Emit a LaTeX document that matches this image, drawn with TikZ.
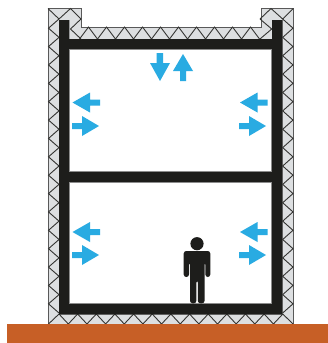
\documentclass[tikz,border=0pt]{standalone}
\definecolor{blk}{HTML}{1D1D1B}
\definecolor{skyb}{HTML}{29ABE2}
\definecolor{soil}{HTML}{C75F26}
\definecolor{insul}{HTML}{DDDFE1}
\tikzset{
  zig/.style={draw=blk!90,line width=0.9pt,line join=miter},
  arr/.style={fill=skyb,draw=none},
  wallfill/.style={fill=insul,draw=black!65,line width=1pt},
  room/.style={fill=white,draw=black!45,line width=1.2pt},
}
% left-pointing, right-pointing arrows at anchor
\newcommand{\arL}[2]{\fill[arr,shift={(#1,#2)}] (0,0)--(17.5,-10)--(17.5,-3)--(27.5,-3)--(27.5,3)--(17.5,3)--(17.5,10)--cycle;}
\newcommand{\arR}[2]{\fill[arr,shift={(#1,#2)}] (0,0)--(-17,-10)--(-17,-3)--(-27,-3)--(-27,3)--(-17,3)--(-17,10)--cycle;}
\begin{document}
\begin{tikzpicture}[x=1pt,y=-1pt]
\useasboundingbox (0,0) rectangle (328,343);
% insulation
\draw[wallfill] (48,8.5)--(81,8.5)--(81,27)--(261,27)--(261,8.5)--(293.3,8.5)--(293.3,324)--(48,324)--cycle;
% left wall zigzag
\draw[zig] (81,19)--(70.5,8.5)--(59,19)--(48,8.5);
\draw[zig] (81,19)--(70.5,29)--(81,39);
\foreach \k in {0,...,15}{
  \pgfmathsetmacro{\a}{19+18.375*\k}
  \pgfmathsetmacro{\b}{\a+9.19}
  \pgfmathsetmacro{\c}{\a+18.375}
  \draw[zig] (59,\a)--(48.5,\b)--(59,\c);
  \draw[zig] (282.7,\a)--(293,\b)--(282.7,\c);
}
% right wall zigzag top
\draw[zig] (260,19)--(271,8.5)--(282.7,19)--(293.3,8.5);
\draw[zig] (260,19)--(271.7,29)--(260,39);
% top zigzag
\foreach \k in {0,...,9}{
  \pgfmathsetmacro{\a}{79.5+18*\k}
  \pgfmathsetmacro{\b}{\a+9}
  \pgfmathsetmacro{\c}{\a+18}
  \draw[zig] (\a,39)--(\b,27)--(\c,39);
}
% bottom zigzag
\foreach \k in {0,...,11}{
  \pgfmathsetmacro{\a}{59+18.65*\k}
  \pgfmathsetmacro{\b}{\a+9.3}
  \pgfmathsetmacro{\c}{\a+18.65}
  \draw[zig] (\a,314)--(\b,324)--(\c,314);
}
\draw[zig] (59,314)--(48.5,324);
\draw[zig] (282.8,314)--(293,324);
% concrete structure
\fill[blk] (59,20)--(69.3,20)--(69.3,39)--(272,39)--(272,20)--(282.7,20)--(282.7,314.5)--(59,314.5)--cycle;
\draw[room] (69.8,49.2) rectangle (271.5,171.8);
\draw[room] (69.8,182.8) rectangle (271.5,303.6);
% ground
\fill[soil] (7,324) rectangle (328,343);
% arrows
\arL{72.5}{102.5}
\arR{99}{126}
\arL{240}{102.5}
\arR{266}{126}
\arL{72.5}{232}
\arR{99}{255}
\arL{240}{232}
\arR{266}{255}
\fill[arr] (150,63)--(156.6,63)--(156.6,53)--(163.2,53)--(163.2,63)--(170,63)--(160,81)--cycle;
\fill[arr] (173,71)--(180,71)--(180,81)--(186,81)--(186,71)--(193,71)--(183,54)--cycle;
% person
\fill[blk] (197,243.7) circle (6.6);
\fill[blk,rounded corners=2.6pt] (183.7,277)--(183.7,251)--(210.3,251)--(210.3,277)--(205.3,277)--(205.3,262)--(204.6,262)--(204.6,303.3)--(197.8,303.3)--(197.8,280)--(196.4,280)--(196.4,303.3)--(190,303.3)--(190,262)--(189,262)--(189,277)--cycle;
\end{tikzpicture}
\end{document}
